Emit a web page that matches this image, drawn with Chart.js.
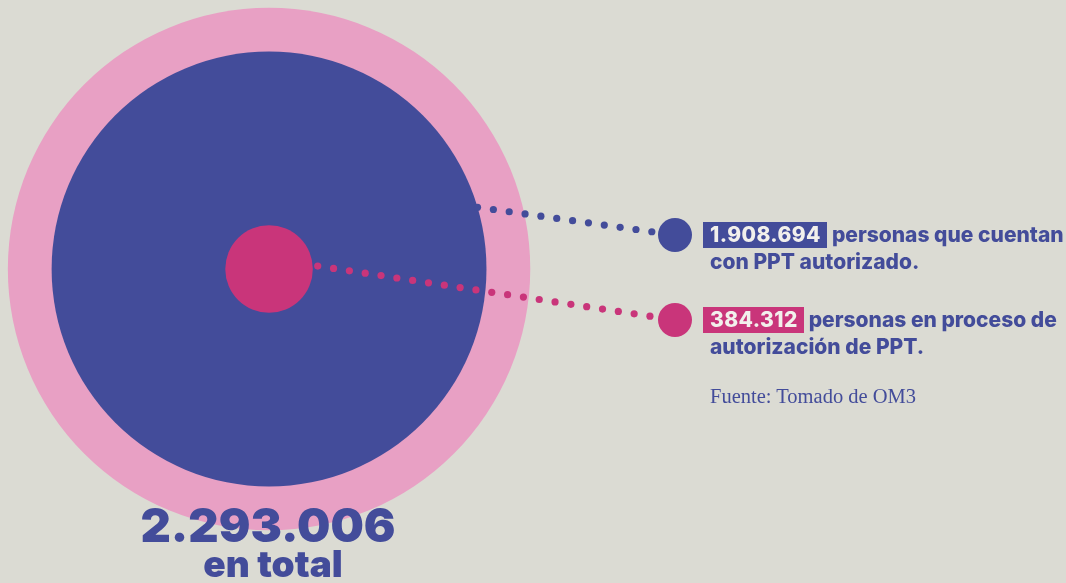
<!DOCTYPE html>
<html>
<head>
<meta charset="utf-8">
<script src="https://cdn.jsdelivr.net/npm/chart.js@4"></script>
<style>
  body { margin: 0; background: #dbdbd3; }
  #wrap { position: relative; width: 1066px; height: 583px; overflow: hidden; }
  #chart { position: absolute; left: 0; top: 0; }
  .t { position: absolute; white-space: nowrap; font-family: Inter, "Noto Sans", sans-serif; font-weight: 800; color: #434c9a; line-height: 1; }
  .lab { font-size: 21px; line-height: 26px; height: 26px; }
  .hl { display: inline-block; color: #f2f0ec; padding: 0 6px 0 7px; margin-right: 5px; letter-spacing: 0.4px; }
  .src { position: absolute; white-space: nowrap; font-family: "Liberation Serif", serif; font-size: 20.5px; color: #434c9a; }
</style>
</head>
<body>
<div id="wrap">
  <canvas id="chart" width="1066" height="583"></canvas>
  <div id="total" class="t" style="font-size:47px; font-weight:900; left:268px; top:501px; transform:translateX(-50%)"></div>
  <div class="t" style="font-size:37px; font-weight:900; left:273px; top:545px; transform:translateX(-50%)">en total</div>
  <div id="l1a" class="t lab" style="left:703px; top:222px"></div>
  <div id="l1b" class="t lab" style="left:710px; top:249px"></div>
  <div id="l2a" class="t lab" style="left:703px; top:307px"></div>
  <div id="l2b" class="t lab" style="left:710px; top:334px"></div>
  <div class="src" style="left:710px; top:385px">Fuente: Tomado de OM3</div>
</div>
<script>
// datos: personas con PPT
const categories = ["Total", "Con PPT autorizado", "En proceso de autorización"]
const values = [2293006, 1908694, 384312]
const colors = ["#e8a0c4", "#434c9a", "#c9357a"]
const labelText = ["en total", "personas que cuentan|con PPT autorizado.", "personas en proceso de|autorización de PPT."]

function fmt(n) { return n.toLocaleString("de-DE") }

document.getElementById("total").textContent = fmt(values[0])
let parts1 = labelText[1].split("|")
let parts2 = labelText[2].split("|")
document.getElementById("l1a").innerHTML = '<span class="hl" style="background:' + colors[1] + '">' + fmt(values[1]) + '</span>' + parts1[0]
document.getElementById("l1b").textContent = parts1[1]
document.getElementById("l2a").innerHTML = '<span class="hl" style="background:' + colors[2] + '">' + fmt(values[2]) + '</span>' + parts2[0]
document.getElementById("l2b").textContent = parts2[1]

// leader lines: angle on circle edge -> marker
const leaders = [
  { ds: 1, angle: -16.5, gap: 0, to: [675, 235] },
  { ds: 2, angle: -3.5, gap: 5, to: [675, 320] }
]

const leaderPlugin = {
  id: "leaders",
  afterDatasetsDraw(chart) {
    const ctx = chart.ctx
    leaders.forEach(l => {
      const el = chart.getDatasetMeta(l.ds).data[0]
      const r = el.options.radius + l.gap
      const a = l.angle * Math.PI / 180
      const sx = el.x + r * Math.cos(a), sy = el.y + r * Math.sin(a)
      const [ex, ey] = l.to
      const len = Math.hypot(ex - sx, ey - sy)
      const n = Math.floor((len - 20) / 16)
      ctx.save()
      ctx.fillStyle = colors[l.ds]
      for (let i = 0; i <= n; i++) {
        const t = i * 16 / len
        ctx.beginPath()
        ctx.arc(sx + (ex - sx) * t, sy + (ey - sy) * t, 3.6, 0, Math.PI * 2)
        ctx.fill()
      }
      ctx.beginPath()
      ctx.arc(ex, ey, 17, 0, Math.PI * 2)
      ctx.fill()
      ctx.restore()
    })
  }
}

// radius follows the value on the x scale
function radius(c) {
  const x = c.chart.scales.x
  if (!x) return 0
  const r = x.getPixelForValue(values[c.datasetIndex] / values[0]) - x.getPixelForValue(0)
  return isFinite(r) && r > 0 ? r : 0
}

new Chart(document.getElementById("chart"), {
  type: "scatter",
  data: {
    datasets: categories.map((c, i) => ({
      label: c,
      data: [{ x: 0, y: 0 }],
      backgroundColor: colors[i],
      pointBackgroundColor: colors[i],
      pointBorderWidth: 0,
      pointRadius: radius,
      pointHoverRadius: radius,
      showLine: false,
      order: 3 - i
    }))
  },
  options: {
    responsive: false,
    animation: false,
    events: [],
    layout: { padding: 0 },
    clip: false,
    scales: {
      x: { display: false, min: -1.03, max: 3.051 },
      y: { display: false, min: -1.202, max: 1.03 }
    },
    plugins: { legend: { display: false }, tooltip: { enabled: false } }
  },
  plugins: [leaderPlugin]
})
</script>
</body>
</html>
